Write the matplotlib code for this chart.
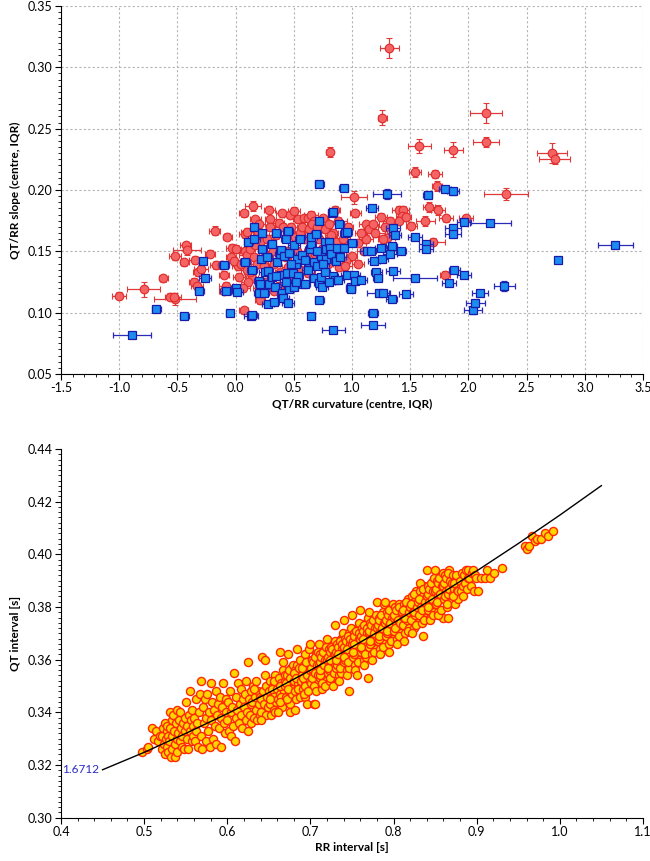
import numpy as np
import matplotlib
matplotlib.use("Agg")
from matplotlib import pyplot as plt
from matplotlib.ticker import MultipleLocator, FormatStrFormatter

plt.rcParams['font.family'] = ['Lato', 'DejaVu Sans']

# ---------------- top panel: QT/RR curvature vs slope ----------------
# red circles (centre) with IQR error bars
red_x = [1.32, 1.26, 2.15, 2.15, 1.58, 1.87, 0.81, 2.72, 2.74, 1.54,
         1.71, 1.73, 2.32, 1.02, 1.66, 1.74, 1.40, 1.44, 1.25, 1.33,
         1.43, 1.63, 1.81, 1.98, 1.51, 1.12, 1.03, 0.85, 0.84, 1.30,
         1.27, 1.12, 1.70, 1.80, 0.89, 1.00, -1.00, -0.79, -0.62, -0.56,
         -0.52, -0.53, -0.52, -0.44, -0.43, -0.42, -0.36, -0.33, -0.35, -0.32,
         -0.30, -0.22, -0.18, -0.17, -0.12, -0.10, -0.07, -0.08, -0.10, -0.04,
         -0.03, 0.00, 0.02, -0.01, 0.07, 0.07, 0.15, 0.08, 0.10, 0.14,
         0.11, 0.17, 0.20, 0.21, 0.29, 0.30, 0.40, 0.47, 0.50, 0.54,
         0.59, 0.62, 0.65, 0.67, 0.77, 0.82, 0.03, 0.05, 0.08, 0.10,
         0.12, 0.16, 0.18, 0.19, 0.21, 0.24, 0.26, 0.27, 0.30, 0.32,
         0.33, 0.35, 0.37, 0.38, 0.41, 0.43, 0.44, 0.46, 0.48, 0.51,
         0.53, 0.55, 0.57, 0.60, 0.61, 0.63, 0.66, 0.68, 0.70, 0.72,
         0.74, 0.75, 0.76, 0.79, 0.80, 0.86, 0.88, 0.90, 0.92, 0.95,
         0.97, 1.05, 1.08, 1.10, 1.15, 1.20, 1.18, 1.28, 1.35, 1.40,
         1.46, 0.12, 0.25, 0.37, 0.48, 0.55, 0.06, 0.10, 0.45, 0.62,
         0.85, 0.94, 1.05, 0.20, 0.33, 0.17]
red_y = [0.316, 0.259, 0.263, 0.239, 0.236, 0.233, 0.231, 0.230, 0.225, 0.215,
         0.213, 0.203, 0.197, 0.194, 0.186, 0.184, 0.184, 0.184, 0.178, 0.175,
         0.179, 0.175, 0.177, 0.177, 0.171, 0.172, 0.181, 0.184, 0.165, 0.161,
         0.160, 0.160, 0.158, 0.131, 0.137, 0.146, 0.114, 0.119, 0.128, 0.113,
         0.111, 0.113, 0.146, 0.141, 0.155, 0.151, 0.125, 0.122, 0.143, 0.133,
         0.136, 0.148, 0.167, 0.139, 0.139, 0.131, 0.162, 0.122, 0.118, 0.145,
         0.153, 0.152, 0.138, 0.142, 0.102, 0.181, 0.187, 0.164, 0.166, 0.128,
         0.125, 0.176, 0.172, 0.110, 0.184, 0.176, 0.181, 0.180, 0.183, 0.176,
         0.177, 0.177, 0.180, 0.175, 0.168, 0.163, 0.129, 0.140, 0.150, 0.147,
         0.152, 0.145, 0.140, 0.166, 0.158, 0.138, 0.147, 0.160, 0.170, 0.150,
         0.140, 0.163, 0.173, 0.133, 0.170, 0.145, 0.150, 0.165, 0.170, 0.162,
         0.150, 0.165, 0.170, 0.160, 0.148, 0.168, 0.172, 0.148, 0.170, 0.160,
         0.152, 0.177, 0.145, 0.140, 0.172, 0.158, 0.175, 0.150, 0.160, 0.142,
         0.170, 0.157, 0.165, 0.150, 0.168, 0.165, 0.172, 0.170, 0.165, 0.175,
         0.178, 0.133, 0.125, 0.122, 0.126, 0.135, 0.120, 0.135, 0.137, 0.132,
         0.145, 0.138, 0.140, 0.120, 0.118, 0.155]
red_xerr = [0.08, 0.04, 0.14, 0.11, 0.10, 0.08, 0.03, 0.13, 0.13, 0.05,
            0.06, 0.04, 0.19, 0.11, 0.05, 0.06, 0.06, 0.05, 0.05, 0.06,
            0.05, 0.08, 0.06, 0.06, 0.05, 0.06, 0.05, 0.05, 0.04, 0.07,
            0.05, 0.06, 0.10, 0.04, 0.04, 0.04, 0.06, 0.14, 0.04, 0.05,
            0.18, 0.06, 0.05, 0.04, 0.05, 0.12, 0.04, 0.05, 0.05, 0.05,
            0.06, 0.04, 0.05, 0.05, 0.06, 0.04, 0.04, 0.06, 0.04, 0.04,
            0.05, 0.05, 0.05, 0.05, 0.04, 0.04, 0.07, 0.05, 0.05, 0.05,
            0.06, 0.05, 0.05, 0.04, 0.05, 0.05, 0.05, 0.05, 0.05, 0.05,
            0.05, 0.05, 0.06, 0.05, 0.05, 0.05, 0.05, 0.06, 0.04, 0.07,
            0.05, 0.06, 0.05, 0.04, 0.07, 0.05, 0.06, 0.05, 0.04, 0.08,
            0.05, 0.06, 0.05, 0.04, 0.07, 0.05, 0.06, 0.05, 0.08, 0.05,
            0.06, 0.05, 0.04, 0.07, 0.05, 0.06, 0.05, 0.08, 0.05, 0.06,
            0.05, 0.04, 0.07, 0.05, 0.06, 0.05, 0.08, 0.05, 0.06, 0.05,
            0.04, 0.07, 0.05, 0.06, 0.05, 0.08, 0.05, 0.06, 0.05, 0.06,
            0.05, 0.05, 0.06, 0.05, 0.07, 0.05, 0.06, 0.05, 0.05, 0.06,
            0.05, 0.06, 0.05, 0.05, 0.06, 0.05]
red_yerr = [0.008, 0.006, 0.008, 0.004, 0.006, 0.006, 0.004, 0.008, 0.004, 0.004,
            0.003, 0.004, 0.005, 0.005, 0.004, 0.004, 0.003, 0.003, 0.003, 0.003,
            0.003, 0.004, 0.003, 0.003, 0.003, 0.003, 0.003, 0.003, 0.003, 0.003,
            0.003, 0.003, 0.003, 0.003, 0.003, 0.003, 0.003, 0.006, 0.003, 0.003,
            0.005, 0.003, 0.003, 0.003, 0.003, 0.004, 0.003, 0.003, 0.003, 0.003,
            0.003, 0.003, 0.004, 0.003, 0.003, 0.003, 0.003, 0.003, 0.003, 0.003,
            0.003, 0.003, 0.003, 0.003, 0.003, 0.003, 0.004, 0.003, 0.003, 0.003,
            0.003, 0.003, 0.003, 0.003, 0.003, 0.003, 0.003, 0.003, 0.003, 0.003,
            0.003, 0.003, 0.003, 0.003, 0.003, 0.003, 0.003, 0.003, 0.003, 0.003,
            0.003, 0.003, 0.003, 0.003, 0.003, 0.003, 0.003, 0.003, 0.003, 0.003,
            0.003, 0.003, 0.003, 0.003, 0.003, 0.003, 0.003, 0.003, 0.003, 0.003,
            0.003, 0.003, 0.003, 0.003, 0.003, 0.003, 0.003, 0.003, 0.003, 0.003,
            0.003, 0.003, 0.003, 0.003, 0.003, 0.003, 0.003, 0.003, 0.003, 0.003,
            0.003, 0.003, 0.003, 0.003, 0.003, 0.003, 0.003, 0.003, 0.003, 0.003,
            0.003, 0.003, 0.003, 0.003, 0.003, 0.003, 0.003, 0.003, 0.003, 0.003,
            0.003, 0.003, 0.003, 0.003, 0.003, 0.003]

# blue squares
blue_x = [-0.89, -0.68, -0.44, -0.31, -0.28, -0.26, -0.10, -0.08, -0.05, 0.00,
          0.01, 0.08, 0.11, 0.13, 0.14, 0.14, 0.16, 0.16, 0.20, 0.20,
          0.21, 0.22, 0.23, 0.23, 0.24, 0.25, 0.28, 0.28, 0.29, 0.31,
          0.31, 0.33, 0.34, 0.35, 0.36, 0.38, 0.39, 0.39, 0.40, 0.41,
          0.42, 0.43, 0.44, 0.45, 0.45, 0.46, 0.46, 0.49, 0.50, 0.50,
          0.52, 0.53, 0.54, 0.58, 0.60, 0.63, 0.64, 0.65, 0.65, 0.65,
          0.67, 0.67, 0.69, 0.70, 0.72, 0.72, 0.72, 0.72, 0.73, 0.73,
          0.74, 0.77, 0.78, 0.78, 0.80, 0.81, 0.82, 0.83, 0.84, 0.84,
          0.84, 0.85, 0.87, 0.89, 0.88, 0.93, 0.93, 0.94, 0.96, 0.96,
          0.99, 0.99, 1.00, 1.02, 1.03, 1.08, 1.13, 1.16, 1.17, 1.18,
          1.18, 1.19, 1.21, 1.22, 1.23, 1.27, 1.25, 1.26, 1.30, 1.33,
          1.34, 1.34, 1.35, 1.35, 1.37, 1.42, 1.46, 1.54, 1.54, 1.64,
          1.64, 1.65, 1.80, 1.87, 1.83, 1.87, 1.87, 1.88, 1.96, 1.96,
          2.04, 2.06, 2.10, 2.19, 2.31, 2.77, 3.26, 0.55, 0.57, 0.60,
          0.62, 0.70, 0.75, 0.77, 0.80, 0.86, 0.90, 0.48, 0.43, 0.27,
          0.35, 0.52]
blue_y = [0.082, 0.103, 0.097, 0.118, 0.142, 0.128, 0.139, 0.118, 0.100, 0.120,
          0.117, 0.141, 0.158, 0.097, 0.098, 0.135, 0.160, 0.170, 0.116, 0.126,
          0.123, 0.144, 0.152, 0.165, 0.116, 0.133, 0.134, 0.107, 0.123, 0.156,
          0.129, 0.109, 0.121, 0.165, 0.141, 0.148, 0.151, 0.131, 0.116, 0.112,
          0.146, 0.160, 0.132, 0.167, 0.108, 0.119, 0.149, 0.132, 0.121, 0.155,
          0.140, 0.144, 0.130, 0.123, 0.123, 0.140, 0.152, 0.156, 0.162, 0.097,
          0.141, 0.128, 0.164, 0.138, 0.205, 0.175, 0.124, 0.110, 0.129, 0.146,
          0.121, 0.158, 0.144, 0.152, 0.158, 0.153, 0.148, 0.181, 0.182, 0.130,
          0.086, 0.127, 0.153, 0.172, 0.127, 0.202, 0.153, 0.165, 0.166, 0.131,
          0.121, 0.119, 0.157, 0.131, 0.126, 0.127, 0.150, 0.150, 0.185, 0.100,
          0.090, 0.142, 0.133, 0.128, 0.116, 0.116, 0.153, 0.144, 0.197, 0.148,
          0.154, 0.111, 0.134, 0.169, 0.163, 0.150, 0.115, 0.128, 0.162, 0.156,
          0.152, 0.196, 0.201, 0.199, 0.124, 0.169, 0.164, 0.135, 0.174, 0.131,
          0.102, 0.108, 0.116, 0.173, 0.122, 0.143, 0.155, 0.160, 0.147, 0.143,
          0.135, 0.150, 0.140, 0.133, 0.125, 0.142, 0.145, 0.140, 0.125, 0.145,
          0.130, 0.125]
blue_xerr = [0.16, 0.04, 0.04, 0.04, 0.03, 0.05, 0.04, 0.05, 0.03, 0.04,
             0.05, 0.04, 0.04, 0.06, 0.04, 0.04, 0.05, 0.03, 0.04, 0.04,
             0.04, 0.03, 0.04, 0.03, 0.05, 0.05, 0.04, 0.05, 0.04, 0.04,
             0.04, 0.04, 0.05, 0.04, 0.03, 0.04, 0.04, 0.05, 0.04, 0.05,
             0.04, 0.04, 0.05, 0.04, 0.05, 0.04, 0.04, 0.04, 0.04, 0.05,
             0.04, 0.04, 0.04, 0.05, 0.04, 0.04, 0.04, 0.04, 0.05, 0.03,
             0.04, 0.04, 0.04, 0.04, 0.04, 0.03, 0.05, 0.04, 0.04, 0.04,
             0.05, 0.04, 0.04, 0.04, 0.04, 0.04, 0.05, 0.04, 0.03, 0.04,
             0.10, 0.04, 0.04, 0.04, 0.05, 0.04, 0.04, 0.04, 0.04, 0.05,
             0.04, 0.04, 0.04, 0.05, 0.04, 0.05, 0.06, 0.05, 0.05, 0.04,
             0.10, 0.05, 0.05, 0.04, 0.10, 0.05, 0.05, 0.05, 0.12, 0.06,
             0.05, 0.05, 0.06, 0.06, 0.05, 0.04, 0.06, 0.19, 0.06, 0.06,
             0.06, 0.04, 0.05, 0.05, 0.06, 0.07, 0.07, 0.05, 0.06, 0.06,
             0.08, 0.08, 0.07, 0.18, 0.09, 0.03, 0.15, 0.04, 0.05, 0.04,
             0.05, 0.04, 0.05, 0.04, 0.05, 0.04, 0.05, 0.04, 0.05, 0.04,
             0.04, 0.05]
blue_yerr = [0.002] * 108 + [0.004] + [0.002] * 14 + [0.003] + [0.002] * 6 + [0.003] \
            + [0.002] * 3 + [0.004] + [0.002] * 17

# ---------------- bottom panel: QT vs RR intervals (ms) ----------------
rr_ms = [498, 503, 505, 510, 512, 514, 517, 519,
         521, 522, 523, 524, 525, 525, 526, 527, 528, 528, 529, 529,
         530, 531, 531, 532, 533, 534, 534, 535, 536, 537, 537, 538, 539, 539,
         540, 541, 542, 543, 543, 544, 545, 546, 547, 548, 549, 549,
         550, 551, 552, 553, 554, 555, 555, 556, 557, 558, 559, 559,
         560, 561, 562, 563, 564, 565, 566, 567, 568, 569,
         570, 571, 572, 573, 574, 575, 576, 577, 578, 579,
         580, 581, 582, 583, 584, 585, 586, 587, 588, 589,
         590, 591, 592, 593, 594, 595, 596, 597, 598, 599,
         600, 601, 602, 603, 604, 605, 606, 607, 608, 609,
         610, 611, 612, 613, 614, 615, 616, 617, 618, 619,
         620, 621, 622, 623, 624, 625, 625, 626, 627, 628, 629, 629,
         630, 631, 632, 633, 634, 635, 636, 637, 638, 639, 639, 632,
         640, 641, 642, 643, 644, 645, 646, 647, 648, 649, 641, 645,
         650, 651, 652, 653, 654, 655, 656, 657, 658, 659, 651, 654, 656, 658,
         660, 661, 662, 663, 664, 665, 666, 667, 668, 669, 661, 663, 665, 667, 669, 664,
         670, 671, 672, 673, 674, 675, 676, 677, 678, 679, 671, 672, 674, 675, 676, 678, 679, 673,
         680, 681, 682, 683, 684, 685, 686, 687, 688, 689, 680, 682, 683, 685, 686, 687, 689, 684,
         690, 691, 692, 693, 694, 695, 696, 697, 698, 699, 690, 691, 692, 693, 694, 695, 696, 697, 698, 699,
         700, 701, 702, 703, 704, 705, 706, 707, 708, 709, 700, 701, 702, 703, 704, 705, 706, 707, 708, 709, 705, 709,
         710, 711, 712, 713, 714, 715, 716, 717, 718, 719, 710, 711, 712, 713, 714, 715, 716, 717, 718, 719, 712, 716,
         720, 721, 722, 723, 724, 725, 726, 727, 728, 729, 720, 721, 722, 723, 724, 725, 726, 727, 728, 729, 721, 724, 726, 728,
         730, 731, 732, 733, 734, 735, 736, 737, 738, 739, 730, 731, 732, 733, 734, 735, 736, 737, 738, 739, 731, 733, 736, 738,
         740, 741, 742, 743, 744, 745, 746, 747, 748, 749, 740, 741, 742, 743, 744, 745, 746, 747, 748, 749, 741, 744, 745, 748,
         750, 751, 752, 753, 754, 755, 756, 757, 758, 759, 750, 751, 752, 753, 754, 755, 756, 757, 758, 759, 751, 753, 756, 758,
         760, 761, 762, 763, 764, 765, 766, 767, 768, 769, 760, 761, 762, 763, 764, 765, 766, 767, 768, 769, 761, 763, 766, 768,
         770, 771, 772, 773, 774, 775, 776, 777, 778, 779, 770, 771, 772, 773, 774, 775, 776, 777, 778, 779, 772, 776,
         780, 781, 782, 783, 784, 785, 786, 787, 788, 789, 780, 781, 782, 783, 784, 785, 786, 787, 788, 789, 782, 786,
         790, 791, 792, 793, 794, 795, 796, 797, 798, 799, 790, 791, 792, 793, 794, 795, 796, 797, 798, 799, 792, 796,
         800, 801, 802, 803, 804, 805, 806, 807, 808, 809, 801, 802, 803, 804, 805, 806, 807, 808,
         810, 811, 812, 813, 814, 815, 816, 817, 818, 819, 811, 812, 814, 815, 817, 818,
         820, 821, 822, 823, 824, 825, 826, 827, 828, 829, 821, 822, 824, 825, 827, 828,
         830, 831, 832, 833, 834, 835, 836, 837, 838, 839, 831, 832, 834, 835, 837, 838,
         840, 841, 842, 843, 844, 845, 846, 847, 848, 849, 840, 841, 842, 843, 844, 845, 846, 847, 848, 849,
         850, 851, 852, 853, 854, 855, 856, 857, 858, 859, 850, 851, 852, 853, 854, 855, 856, 857, 858, 859,
         860, 861, 862, 863, 864, 865, 866, 867, 868, 869, 861, 862, 863, 864, 865, 866, 867, 868,
         870, 871, 872, 873, 874, 875, 876, 877, 878, 879, 871, 873, 875, 877,
         880, 881, 882, 883, 884, 885, 886, 887, 888, 889,
         890, 891, 893, 894, 895, 897, 898, 899,
         901, 905, 910, 912, 916, 921, 931,
         958, 961, 963, 967, 970, 973, 977, 982, 986, 992]
qt_ms = [325, 326, 327, 334, 330, 333, 329, 331,
         326, 331, 334, 328, 324, 336, 330, 333, 327, 335, 331, 325,
         329, 334, 340, 323, 337, 331, 326, 339, 333, 323, 328, 336, 330, 341,
         325, 332, 337, 329, 340, 334, 327, 331, 336, 326, 333, 338,
         344, 330, 335, 326, 339, 333, 348, 337, 329, 341, 335, 331,
         338, 329, 345, 333, 336, 327, 340, 347, 352, 331,
         326, 342, 336, 345, 329, 338, 347, 333, 340, 327,
         351, 337, 344, 330, 341, 335, 348, 328, 339, 343,
         334, 346, 338, 327, 342, 351, 336, 332, 345, 340,
         337, 344, 333, 348, 340, 331, 342, 335, 355, 329,
         346, 338, 341, 351, 336, 343, 349, 339, 334, 345,
         342, 347, 337, 352, 340, 333, 359, 345, 339, 348, 343, 336,
         344, 350, 338, 346, 341, 352, 337, 348, 343, 339, 346, 349,
         345, 340, 361, 348, 343, 354, 339, 350, 346, 342, 337, 360,
         348, 343, 352, 339, 346, 350, 341, 354, 347, 344, 345, 349, 352, 340,
         349, 345, 353, 363, 347, 351, 342, 356, 348, 352, 340, 350, 346, 359, 354, 344,
         350, 346, 354, 362, 348, 352, 343, 357, 349, 355, 351, 345, 356, 340, 353, 347, 358, 349,
         352, 348, 356, 345, 358, 351, 354, 347, 360, 350, 355, 341, 353, 349, 357, 346, 352, 364,
         354, 349, 358, 352, 346, 356, 343, 360, 351, 355, 357, 353, 347, 362, 350, 359, 354, 348, 364, 352,
         356, 351, 360, 354, 343, 358, 352, 362, 355, 349, 366, 357, 353, 359, 350, 361, 355, 348, 358, 363, 343, 354,
         358, 353, 362, 356, 349, 360, 355, 364, 357, 352, 366, 359, 354, 361, 351, 363, 357, 350, 360, 365, 356, 358,
         360, 355, 364, 358, 352, 362, 357, 366, 359, 354, 368, 361, 356, 363, 353, 365, 359, 350, 362, 367, 357, 360, 364, 355,
         362, 357, 366, 360, 354, 364, 359, 368, 361, 356, 373, 363, 358, 365, 352, 367, 361, 355, 364, 370, 360, 362, 357, 366,
         364, 359, 368, 362, 356, 366, 348, 370, 363, 358, 375, 365, 360, 367, 354, 369, 363, 357, 366, 372, 361, 364, 359, 368,
         366, 361, 370, 364, 358, 368, 363, 372, 365, 360, 377, 367, 362, 369, 356, 371, 365, 359, 368, 374, 363, 366, 354, 370,
         368, 363, 372, 366, 360, 370, 365, 374, 367, 353, 379, 369, 364, 371, 358, 373, 367, 361, 370, 376, 365, 368, 362, 372,
         370, 365, 374, 368, 362, 372, 367, 376, 369, 364, 378, 371, 366, 373, 360, 375, 369, 363, 372, 377, 367, 370,
         372, 367, 376, 370, 364, 374, 369, 378, 371, 366, 382, 373, 368, 375, 362, 377, 371, 365, 374, 381, 369, 372,
         374, 369, 378, 372, 366, 376, 371, 380, 373, 368, 382, 375, 370, 377, 363, 379, 373, 367, 376, 381, 371, 374,
         376, 371, 380, 374, 368, 378, 373, 381, 375, 370, 377, 372, 379, 366, 375, 380, 369, 374,
         378, 373, 381, 376, 370, 380, 375, 383, 377, 372, 379, 367, 376, 382, 371, 378,
         380, 375, 384, 378, 372, 382, 377, 386, 379, 374, 381, 370, 378, 385, 373, 380,
         382, 377, 386, 380, 374, 384, 369, 388, 381, 376, 383, 389, 379, 387, 375, 382,
         384, 379, 388, 382, 376, 386, 381, 390, 383, 378, 394, 385, 380, 387, 375, 389, 383, 377, 386, 391,
         386, 381, 390, 384, 378, 388, 383, 392, 385, 376, 394, 387, 382, 389, 377, 391, 385, 379, 388, 393,
         388, 383, 392, 386, 380, 390, 376, 394, 387, 382, 389, 384, 391, 381, 385, 393, 387, 390,
         389, 385, 392, 387, 381, 391, 386, 388, 383, 390, 384, 389, 392, 386,
         390, 386, 393, 388, 384, 392, 389, 394, 387, 391,
         394, 391, 388, 393, 394, 386, 392, 391,
         386, 391, 391, 394, 391, 393, 395,
         403, 402, 403, 407, 405, 406, 406, 408, 407, 409]

# fitted curve
curve_rr = [0.45, 0.50, 0.55, 0.60, 0.65, 0.70, 0.75, 0.80, 0.85, 0.90, 0.95, 1.00, 1.05]
curve_qt = [0.3182, 0.3248, 0.3320, 0.3395, 0.3475, 0.3560, 0.3648, 0.3740,
            0.3837, 0.3937, 0.4041, 0.4149, 0.4261]
curve_label = '1.6712'

# ---------------- plotting ----------------
fig = plt.figure(figsize=(6.5, 8.61), dpi=100)
ax1 = fig.add_axes([0.0938, 0.5656, 0.8954, 0.4274])
ax2 = fig.add_axes([0.0938, 0.0503, 0.8954, 0.4282])

for ax in (ax1, ax2):
    ax.spines['top'].set_visible(False)
    ax.spines['right'].set_visible(False)
    ax.spines['left'].set_color('black')
    ax.spines['bottom'].set_color('black')
    ax.tick_params(which='major', direction='out', length=4, width=0.8, labelsize=9, pad=2)
    ax.tick_params(which='minor', direction='out', length=2.5, width=0.6)

ax1.set_axisbelow(True)
ax1.grid(True, which='major', linestyle=(0, (2, 2)), color='#b4b4b4', linewidth=0.8)

ax1.errorbar(red_x, red_y, xerr=red_xerr, yerr=red_yerr, fmt='o', ms=6.2,
             mfc='#f46464', mec='#e02a2a', mew=0.8, ecolor='#de3a3a',
             elinewidth=0.9, capsize=2, capthick=0.9, zorder=3)
ax1.errorbar(blue_x, blue_y, xerr=blue_xerr, yerr=blue_yerr, fmt='s', ms=6,
             mfc='#1c8cf0', mec='#1a1aa8', mew=0.9, ecolor='#2a2ab8',
             elinewidth=0.9, capsize=2, capthick=0.9, zorder=4)

ax1.set_xlim(-1.5, 3.5)
ax1.set_ylim(0.05, 0.35)
ax1.xaxis.set_major_locator(MultipleLocator(0.5))
ax1.xaxis.set_minor_locator(MultipleLocator(0.1))
ax1.yaxis.set_major_locator(MultipleLocator(0.05))
ax1.yaxis.set_minor_locator(MultipleLocator(0.005))
ax1.xaxis.set_major_formatter(FormatStrFormatter('%.1f'))
ax1.yaxis.set_major_formatter(FormatStrFormatter('%.2f'))
ax1.set_xlabel('QT/RR curvature (centre, IQR)', fontsize=8.5, fontweight='bold', labelpad=3)
ax1.set_ylabel('QT/RR slope (centre, IQR)', fontsize=8.5, fontweight='bold', labelpad=5)

rr = np.array(rr_ms) / 1000.0
qt = np.array(qt_ms) / 1000.0
ax2.scatter(rr, qt, s=34, c='#ffd400', edgecolors='#ff2800', linewidths=1.0, zorder=2)
ax2.plot(curve_rr, curve_qt, color='black', linewidth=1.0, zorder=3)
ax2.text(curve_rr[0] - 0.004, curve_qt[0], curve_label, ha='right', va='center',
         color='#2a2ac8', fontsize=8.5)

ax2.set_xlim(0.4, 1.1)
ax2.set_ylim(0.30, 0.44)
ax2.xaxis.set_major_locator(MultipleLocator(0.1))
ax2.xaxis.set_minor_locator(MultipleLocator(0.02))
ax2.yaxis.set_major_locator(MultipleLocator(0.02))
ax2.yaxis.set_minor_locator(MultipleLocator(0.002))
ax2.xaxis.set_major_formatter(FormatStrFormatter('%.1f'))
ax2.yaxis.set_major_formatter(FormatStrFormatter('%.2f'))
ax2.set_xlabel('RR interval [s]', fontsize=8.5, fontweight='bold', labelpad=3)
ax2.set_ylabel('QT interval [s]', fontsize=8.5, fontweight='bold', labelpad=5)

fig.savefig('out.png', dpi=100)
